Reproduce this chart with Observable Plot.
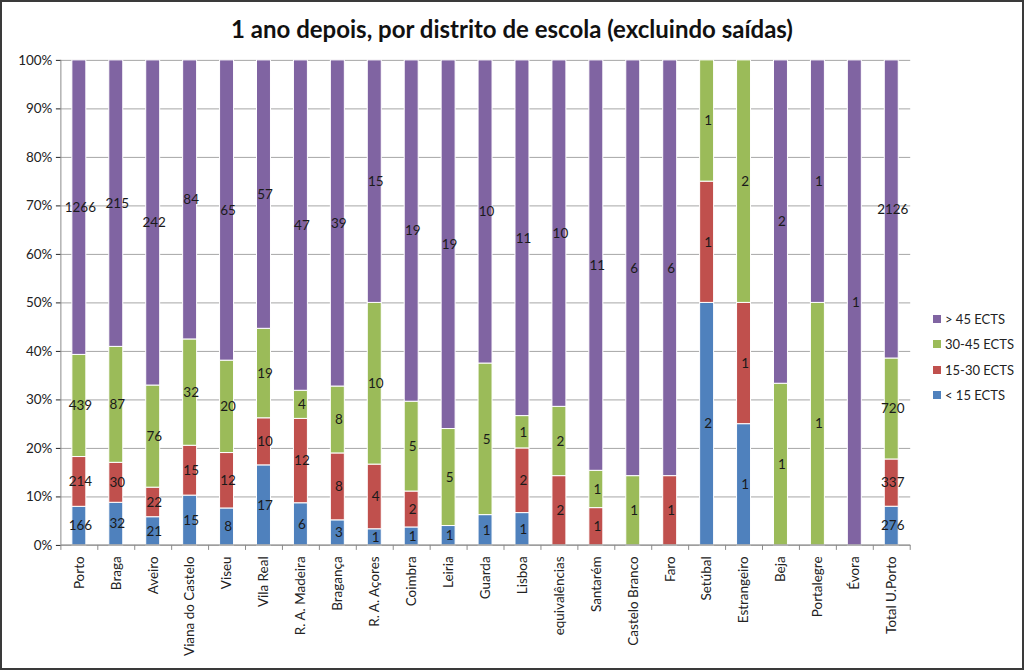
<!DOCTYPE html>
<html>
<head>
<meta charset="utf-8">
<script src="https://cdn.jsdelivr.net/npm/d3@7"></script>
<script src="https://cdn.jsdelivr.net/npm/@observablehq/plot@0.6"></script>
<style>
  html, body { margin: 0; padding: 0; background: #fff; }
  #wrap { position: relative; width: 1024px; height: 670px; box-sizing: border-box; border: 2px solid #3a3a3a; overflow: hidden; font-family: Lato, "Open Sans", sans-serif; }
  #title { position: absolute; left: 0; right: 0; top: 12px; text-align: center; font-weight: bold; font-size: 24px; color: #111; }
  #chart { position: absolute; left: -2px; top: -2px; }
  #legend { position: absolute; left: 931px; top: 304px; font-size: 13px; color: #222; }
  .li { height: 25.5px; display: flex; align-items: center; white-space: nowrap; }
  .sw { width: 8px; height: 8px; margin-right: 4px; display: inline-block; }
</style>
</head>
<body>
<div id="wrap">
  <div id="title">1 ano depois, por distrito de escola (excluindo saídas)</div>
  <div id="chart"></div>
  <div id="legend"></div>
</div>
<script>
const categories = ["Porto","Braga","Aveiro","Viana do Castelo","Viseu","Vila Real","R. A. Madeira","Bragança","R. A. Açores","Coimbra","Leiria","Guarda","Lisboa","equivalências","Santarém","Castelo Branco","Faro","Setúbal","Estrangeiro","Beja","Portalegre","Évora","Total U.Porto"];
const seriesNames = ["< 15 ECTS","15-30 ECTS","30-45 ECTS","> 45 ECTS"];
const seriesColors = ["#4F81BD","#C0504D","#9BBB59","#8064A2"];
const lt15   = [166,32,21,15,8,17,6,3,1,1,1,1,1,0,0,0,0,2,1,0,0,0,276];
const r15_30 = [214,30,22,15,12,10,12,8,4,2,0,0,2,2,1,0,1,1,1,0,0,0,337];
const r30_45 = [439,87,76,32,20,19,4,8,10,5,5,5,1,2,1,1,0,1,2,1,1,0,720];
const gt45   = [1266,215,242,84,65,57,47,39,15,19,19,10,11,10,11,6,6,0,0,2,1,1,2126];
const yTicks = [0,0.1,0.2,0.3,0.4,0.5,0.6,0.7,0.8,0.9,1];

const seriesValues = [lt15, r15_30, r30_45, gt45];
const data = [];
categories.forEach((c, i) => {
  seriesNames.forEach((s, j) => data.push({category: c, series: s, value: seriesValues[j][i]}));
});

const W = 1024, H = 670;
const chart = Plot.plot({
  width: W, height: H,
  marginTop: 60, marginBottom: 124, marginLeft: 61, marginRight: 112,
  style: {fontFamily: "Lato, 'Open Sans', sans-serif", fontSize: "13.5px", color: "#222", background: "transparent"},
  x: {domain: categories, paddingInner: 0.62, paddingOuter: 0.31, label: null, tickRotate: -90, tickSize: 0, tickPadding: 11},
  y: {domain: [0, 1], ticks: yTicks, tickFormat: d => Math.round(d * 100) + "%", label: null, tickSize: 5, tickPadding: 4},
  color: {domain: seriesNames, range: seriesColors},
  marks: [
    Plot.ruleY(yTicks, {stroke: "#a6a6a6", strokeWidth: 1}),
    Plot.barY(data, Plot.stackY({offset: "normalize", order: null, x: "category", y: "value", fill: "series", stroke: "#fff", strokeWidth: 1})),
    Plot.text(data, Plot.stackY({offset: "normalize", order: null, x: "category", y: "value", text: d => d.value > 0 ? String(d.value) : "", fill: "#1a1a1a", fontSize: 13.5, dx: 1})),
  ]
});
document.getElementById("chart").appendChild(chart);

// axis lines and category boundary ticks (from scales)
const xs = chart.scale("x"), ys = chart.scale("y");
const svg = d3.select(chart);
const y0 = ys.apply(0), y1 = ys.apply(1);
const xLeft = xs.range[0], xRight = xs.range[1];
const g = svg.append("g").attr("stroke", "#8c8c8c");
g.append("line").attr("x1", xLeft).attr("x2", xLeft).attr("y1", y1).attr("y2", y0);
g.append("line").attr("x1", xLeft).attr("x2", xRight).attr("y1", y0).attr("y2", y0);
const step = (xRight - xLeft) / categories.length;
for (let i = 0; i <= categories.length; i++) {
  const bx = xLeft + i * step;
  g.append("line").attr("x1", bx).attr("x2", bx).attr("y1", y0).attr("y2", y0 + 5);
}

const legend = document.getElementById("legend");
[...seriesNames].reverse().forEach((s) => {
  const c = seriesColors[seriesNames.indexOf(s)];
  const div = document.createElement("div");
  div.className = "li";
  div.innerHTML = `<span class="sw" style="background:${c}"></span><span>${s}</span>`;
  legend.appendChild(div);
});
</script>
</body>
</html>
